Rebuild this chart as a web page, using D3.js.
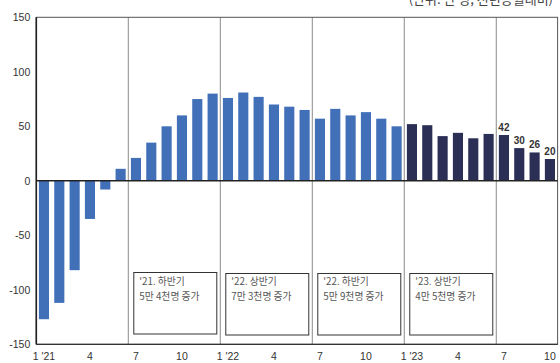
<!DOCTYPE html>
<html><head><meta charset="utf-8">
<script src="https://cdn.jsdelivr.net/npm/d3@7"></script>
<style>
html,body{margin:0;padding:0;background:#fff;}
svg{display:block;font-family:"Noto Sans CJK KR","Noto Sans",sans-serif;}
</style></head>
<body>
<svg id="c" width="560" height="363"></svg>
<script>
// ---- data ----
const categories = [
  "2021-01","2021-02","2021-03","2021-04","2021-05","2021-06","2021-07","2021-08","2021-09","2021-10","2021-11","2021-12",
  "2022-01","2022-02","2022-03","2022-04","2022-05","2022-06","2022-07","2022-08","2022-09","2022-10","2022-11","2022-12",
  "2023-01","2023-02","2023-03","2023-04","2023-05","2023-06","2023-07","2023-08","2023-09","2023-10"
];
const values = [
  -127, -112, -82, -35, -8, 11, 21, 35, 50, 60, 75, 80,
  76, 81, 77, 70, 68, 65, 57, 66, 60, 63, 57, 50,
  52, 51, 41, 44, 39, 43, 42, 30, 26, 20
];
const highlightYear = "2023";
const labeledCategories = ["2023-07","2023-08","2023-09","2023-10"];
const tickCategories = ["2021-01","2021-04","2021-07","2021-10","2022-01","2022-04","2022-07","2022-10","2023-01","2023-04","2023-07","2023-10"];
const tickLabels = ["1 '21","4","7","10","1 '22","4","7","10","1 '23","4","7","10"];
const yTicks = [150, 100, 50, 0, -50, -100, -150];
const dividerCategories = ["2021-07","2022-01","2022-07","2023-01","2023-07"];
const noteStarts = ["2021-07","2022-01","2022-07","2023-01"];
const noteLine1 = ["'21. 하반기","'22. 상반기","'22. 하반기","'23. 상반기"];
const noteLine2 = ["5만 4천명 증가","7만 3천명 증가","5만 9천명 증가","4만 5천명 증가"];
const unitText = "(단위: 만 명, 전년동월대비)";

// ---- layout ----
const svg = d3.select("#c");
const L = 36.3, R = 557.6, T = 17.3, B = 344.3;
const numFont = "'Liberation Sans','Noto Sans',sans-serif";
const x = d3.scaleBand().domain(categories).range([L, R]).paddingInner(0.34).paddingOuter(0.17);
const y = d3.scaleLinear().domain([-150, 150]).range([B, T]);
const step = x.step(), gap = step - x.bandwidth();
const edge = c => x(c) - gap / 2;

const light = "#4170b9", dark = "#2b2e55";

// dividers
svg.append("g").selectAll("line").data(dividerCategories).join("line")
  .attr("x1", d => edge(d)).attr("x2", d => edge(d))
  .attr("y1", T).attr("y2", B)
  .attr("stroke", "#8a8a8a").attr("stroke-width", 1);

// note boxes
const noteG = svg.append("g").selectAll("g").data(noteStarts).join("g");
noteG.append("rect")
  .attr("x", d => edge(d) + 5.5)
  .attr("y", (d, i) => 272.5 + (i > 0 ? 1 : 0))
  .attr("width", step * 6 - 9)
  .attr("height", 61.5)
  .attr("fill", "#fff").attr("stroke", "#333").attr("stroke-width", 1);
noteG.append("text")
  .attr("x", d => edge(d) + 11).attr("y", 285)
  .attr("font-size", 9.8).attr("fill", "#555")
  .text((d, i) => noteLine1[i]);
noteG.append("text")
  .attr("x", d => edge(d) + 11).attr("y", 299.5)
  .attr("font-size", 9.8).attr("fill", "#555")
  .text((d, i) => noteLine2[i]);

// bars
svg.append("g").selectAll("rect").data(categories).join("rect")
  .attr("x", d => x(d))
  .attr("width", x.bandwidth())
  .attr("y", (d, i) => y(Math.max(0, values[i])))
  .attr("height", (d, i) => Math.abs(y(values[i]) - y(0)))
  .attr("fill", d => d.startsWith(highlightYear) ? dark : light);

// value labels
svg.append("g").selectAll("text").data(labeledCategories).join("text")
  .attr("x", d => x(d) + x.bandwidth() / 2)
  .attr("y", d => y(values[categories.indexOf(d)]) - 4.5)
  .attr("text-anchor", "middle")
  .attr("font-family", numFont)
  .attr("font-size", 10).attr("font-weight", "bold").attr("fill", "#333")
  .text(d => values[categories.indexOf(d)]);

// frame
svg.append("rect").attr("x", L).attr("y", T).attr("width", R - L).attr("height", B - T)
  .attr("fill", "none").attr("stroke", "#555").attr("stroke-width", 1);
svg.append("line").attr("x1", L).attr("x2", L).attr("y1", T).attr("y2", B)
  .attr("stroke", "#222").attr("stroke-width", 1.6);
svg.append("line").attr("x1", L).attr("x2", R).attr("y1", y(0)).attr("y2", y(0))
  .attr("stroke", "#222").attr("stroke-width", 1.5);
svg.append("line").attr("x1", L).attr("x2", R).attr("y1", B).attr("y2", B)
  .attr("stroke", "#333").attr("stroke-width", 1.2);

// y axis labels
const yAxis = d3.axisLeft(y).tickValues(yTicks).tickFormat(d => String(d)).tickSize(0).tickPadding(6);
const ya = svg.append("g").attr("transform", `translate(${L},0)`).call(yAxis);
ya.select(".domain").remove();
ya.selectAll("text").attr("font-size", 10.5).attr("fill", "#333")
  .attr("font-family", numFont);

// x axis labels
const xAxis = d3.axisBottom(x).tickValues(tickCategories)
  .tickFormat(d => tickLabels[tickCategories.indexOf(d)]).tickSize(0).tickPadding(0);
const xa = svg.append("g").attr("transform", `translate(0,${B})`).call(xAxis);
xa.select(".domain").remove();
xa.selectAll("text").attr("font-size", 10.5).attr("fill", "#333")
  .attr("font-family", numFont).attr("dy", null).attr("y", 15.7);

// unit text (clipped at top, as in the reference)
svg.append("text").attr("x", 553).attr("y", 3.5).attr("text-anchor", "end")
  .attr("font-size", 13).attr("fill", "#444").text(unitText);
</script>
</body></html>
